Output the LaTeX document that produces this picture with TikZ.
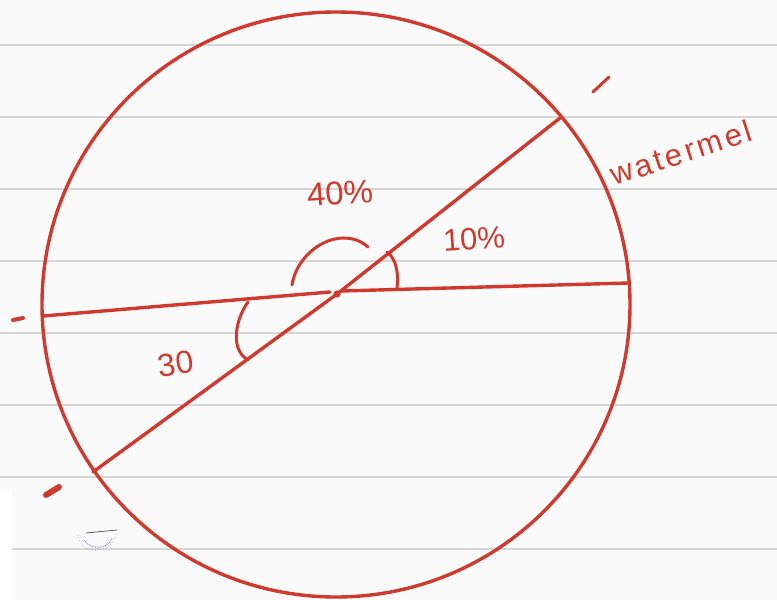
\documentclass[tikz,border=0pt]{standalone}
\usepackage{fontspec}
\setmainfont{Liberation Sans}
\definecolor{ink}{RGB}{208,58,46}
\definecolor{paper}{RGB}{250,250,250}
\definecolor{rule}{RGB}{214,214,214}
\tikzset{
  pen/.style={draw=ink, line width=3.4pt, line cap=round, line join=round},
  thinpen/.style={draw=ink, line width=3pt, line cap=round},
  ruleline/.style={draw=rule, line width=2.6pt},
  hand/.style={text=ink, inner sep=0pt}
}
\begin{document}
\begin{tikzpicture}[x=1pt, y=-1pt]
\useasboundingbox (0,0) rectangle (777,600);
\fill[paper] (0,0) rectangle (777,600);
\fill[white] (0,490) rectangle (12,600);
% ruled lines
\foreach \yy in {45,117,189,261,333,405,477} {\draw[ruleline] (0,\yy) -- (777,\yy);}
\draw[ruleline] (12,549) -- (777,549);
% circle
\coordinate (M) at (336,304.5);
\draw[pen] (M) ellipse [x radius=294, y radius=292.5];
% lines
\coordinate (O) at (337,294);
\coordinate (A) at (560,118);
\coordinate (B) at (93,472);
\coordinate (C) at (43,316);
\coordinate (D) at (628,283);
\coordinate (O1) at (330,292);
\coordinate (O2) at (341,291);
\draw[pen] (O) -- (A);
\draw[pen] (B) -- (O);
\draw[pen] (C) -- (O1);
\draw[pen] (O2) -- (D);
\fill[ink] (O) circle (3.6pt);
% angle arcs
\coordinate (a1) at (292,285);
\coordinate (a2) at (368,247);
\draw[thinpen] (a1) .. controls (298,248) and (342,224) .. (a2);
\coordinate (b1) at (387,252);
\coordinate (b2) at (397,288);
\draw[thinpen] (b1) .. controls (396,258) and (399,274) .. (b2);
\coordinate (c1) at (248,302);
\coordinate (c2) at (248,360);
\draw[thinpen] (c1) .. controls (235,320) and (230,350) .. (c2);
% labels
\node[hand, font=\fontsize{33}{33}\selectfont, rotate=4] (l40) at (340,193) {40\%};
\node[hand, font=\fontsize{31}{31}\selectfont, rotate=4] (l10) at (474,239) {10\%};
\node[hand, font=\fontsize{32}{32}\selectfont, rotate=8] (l30) at (176,364) {30};
\node[hand, font=\fontsize{31}{31}\selectfont\addfontfeature{LetterSpace=10}, rotate=18, anchor=base west] (lw) at (614,186) {watermel};
% small marks
\coordinate (t1) at (593,92); \coordinate (t2) at (609,77);
\draw[thinpen] (t1) -- (t2);
\coordinate (d1) at (13,320); \coordinate (d2) at (23,318);
\draw[ink, line width=4pt, line cap=round] (d1) -- (d2);
\coordinate (e1) at (46,495); \coordinate (e2) at (59,487);
\draw[ink, line width=6pt, line cap=round] (e1) -- (e2);
% faint scribble
\coordinate (w1) at (86,533); \coordinate (w2) at (117,530);
\draw[gray!70!black, line width=0.8pt] (w1) -- (w2);
\draw[gray!60, line width=0.8pt, dotted] (78,535) .. controls (80,556) and (112,556) .. (117,532);
\draw[blue!40!gray, line width=0.7pt, densely dotted] (84,540) .. controls (90,550) and (108,550) .. (112,538);
\end{tikzpicture}
\end{document}
